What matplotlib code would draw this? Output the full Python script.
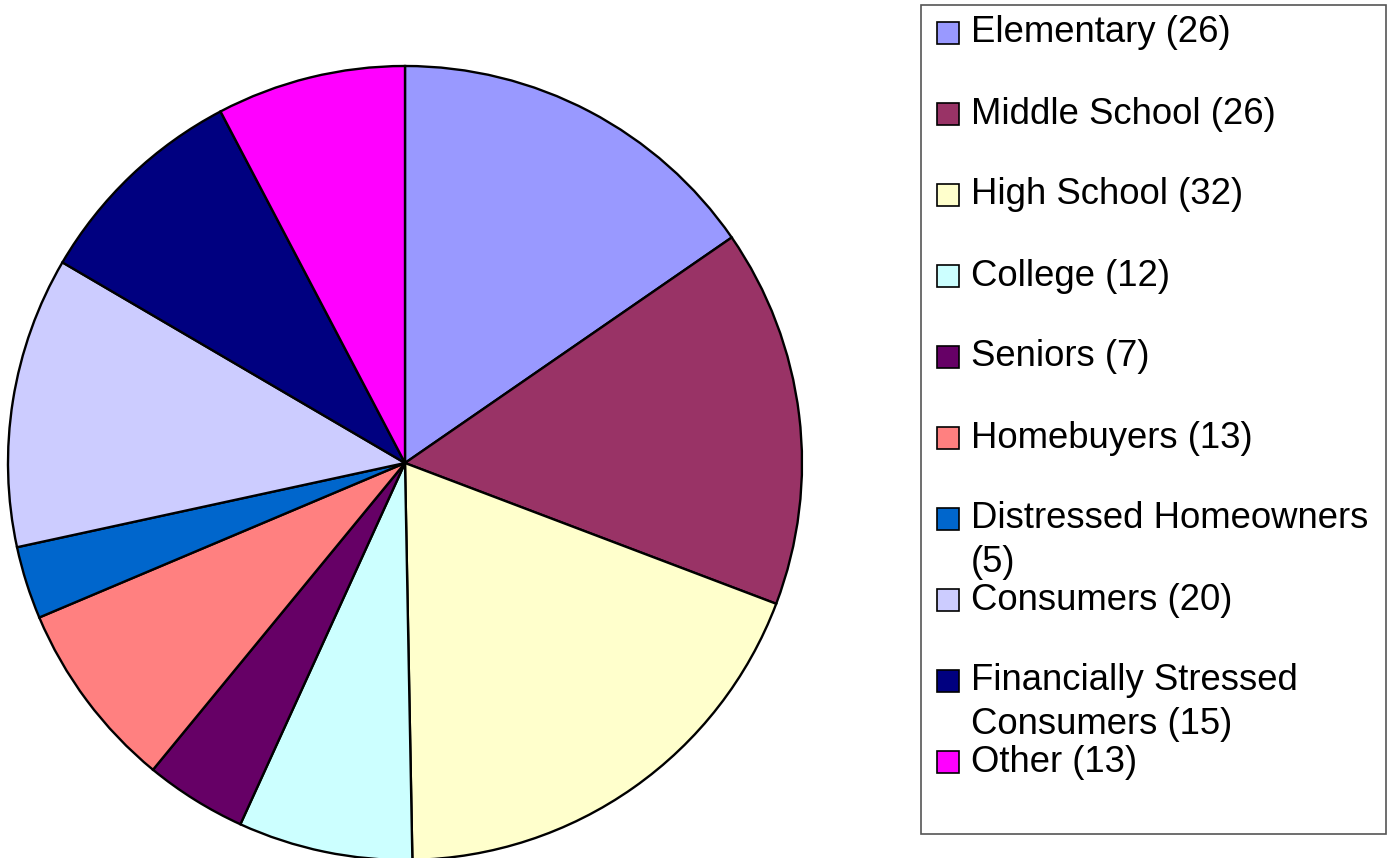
import matplotlib
matplotlib.use("Agg")
import matplotlib.pyplot as plt
from matplotlib.patches import Rectangle

# data
labels = ["Elementary", "Middle School", "High School", "College", "Seniors",
          "Homebuyers", "Distressed Homeowners", "Consumers",
          "Financially Stressed Consumers", "Other"]
counts = [26, 26, 32, 12, 7, 13, 5, 20, 15, 13]
colors = ["#9999FF", "#993366", "#FFFFCC", "#CCFFFF", "#660066",
          "#FF8080", "#0066CC", "#CCCCFF", "#000080", "#FF00FF"]
# legend text as wrapped in the original
legend_lines = [
    ["Elementary (26)"],
    ["Middle School (26)"],
    ["High School (32)"],
    ["College (12)"],
    ["Seniors (7)"],
    ["Homebuyers (13)"],
    ["Distressed Homeowners", "(5)"],
    ["Consumers (20)"],
    ["Financially Stressed", "Consumers (15)"],
    ["Other (13)"],
]

W, H = 1391, 858
fig = plt.figure(figsize=(W / 100, H / 100), dpi=100)
plt.rcParams['font.family'] = ['Liberation Sans', 'DejaVu Sans']

# pie: center (405, 463) px, radius ~397 px
cx, cy, r = 405, 463, 397
ax = fig.add_axes([(cx - r) / W, (H - cy - r) / H, 2 * r / W, 2 * r / H])
ax.pie(counts, colors=colors, startangle=90, counterclock=False, radius=1,
       wedgeprops=dict(edgecolor="black", linewidth=1.7))
ax.set_xlim(-1, 1)
ax.set_ylim(-1, 1)
ax.set_aspect("auto")
ax.axis("off")

# legend box drawn by hand (entries overlap like the original)
def px(x, y):
    return x / W, 1 - y / H

lx0, ly0, lx1, ly1 = 921, 5, 1386, 834
fig.patches.append(Rectangle(px(lx0, ly1), (lx1 - lx0) / W, (ly1 - ly0) / H,
                             transform=fig.transFigure, facecolor="white",
                             edgecolor="#555555", linewidth=1.2, zorder=0))

y0, step, line_h = 33, 81, 43
for i, (lines, c) in enumerate(zip(legend_lines, colors)):
    yc = y0 + i * step
    sq = 22
    fig.patches.append(Rectangle(px(937, yc + sq / 2), sq / W, sq / H,
                                 transform=fig.transFigure, facecolor=c,
                                 edgecolor="black", linewidth=1.2, zorder=2))
    for j, t in enumerate(lines):
        fig.text(*px(971, yc + j * line_h), t, fontsize=26.3,
                 va="center", ha="left", color="black", zorder=3)

fig.savefig("out.png", dpi=100)
